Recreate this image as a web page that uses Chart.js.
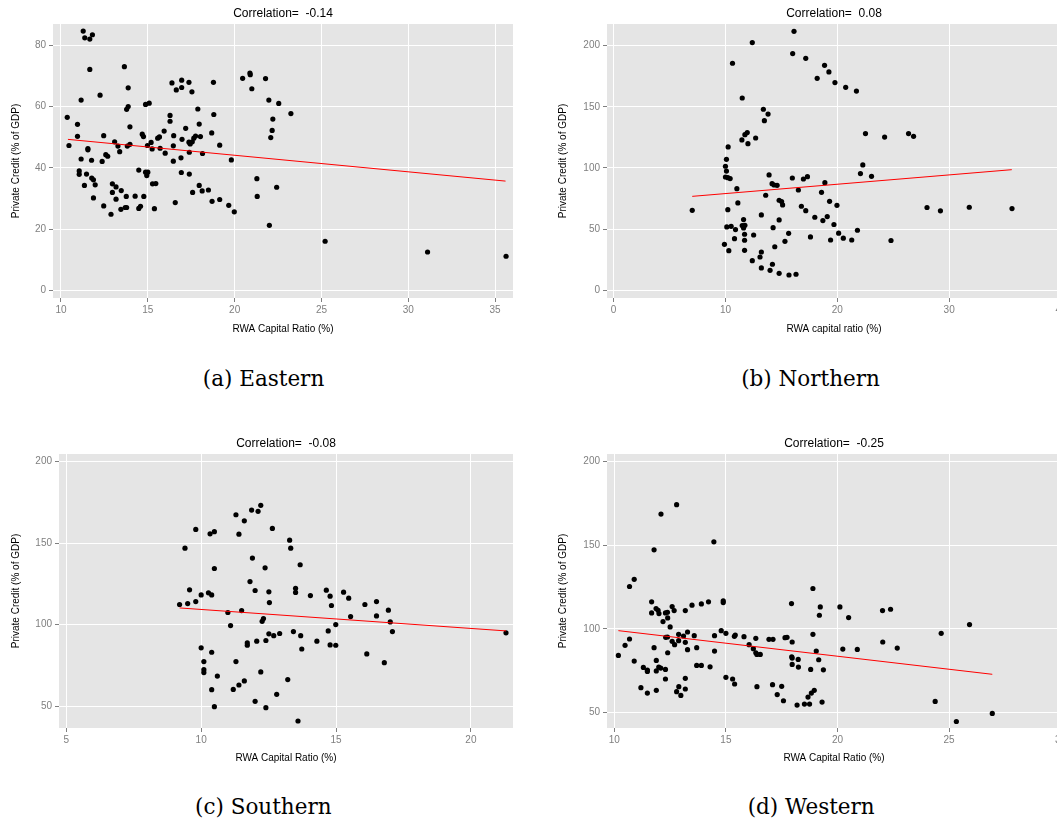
<!DOCTYPE html>
<html>
<head>
<meta charset="utf-8">
<script src="https://cdn.jsdelivr.net/npm/chart.js@4/dist/chart.umd.min.js"></script>
<style>
  html, body { margin: 0; padding: 0; background: #ffffff; }
  body { width: 1057px; height: 820px; overflow: hidden; position: relative; }
  canvas { position: absolute; }
  .cap { position: absolute; width: 300px; text-align: center; font-family: "DejaVu Serif", serif;
         font-size: 21.5px; line-height: 26px; color: #000; white-space: nowrap; }
</style>
</head>
<body>
<canvas id="cA" width="517" height="335" style="left:0px;top:0px;"></canvas>
<canvas id="cB" width="535" height="335" style="left:530px;top:0px;"></canvas>
<canvas id="cC" width="517" height="334" style="left:0px;top:430px;"></canvas>
<canvas id="cD" width="535" height="334" style="left:530px;top:430px;"></canvas>
<div class="cap" style="left:113.5px;top:366px;">(a) Eastern</div>
<div class="cap" style="left:660.5px;top:366px;">(b) Northern</div>
<div class="cap" style="left:113.3px;top:794px;">(c) Southern</div>
<div class="cap" style="left:661.2px;top:794px;">(d) Western</div>
<script>
// ---------------- DATA ----------------
const eastX = [10.36,10.46,11.28,11.37,11.66,11.81,11.66,11.16,10.95,10.95,11.16,11.05,11.05,11.35,11.47,11.55,11.55,11.76,11.77,11.87,11.97,11.87,12.25,12.46,12.37,12.58,12.69,12.46,12.88,12.96,12.96,13.17,13.17,13.09,13.28,13.38,13.47,13.45,13.70,13.78,13.76,13.65,13.87,13.78,13.87,13.97,13.82,13.97,14.27,14.48,14.48,14.58,14.68,14.75,14.77,14.87,15.08,14.87,14.94,14.98,15.00,15.19,15.25,15.27,15.46,15.38,15.57,15.67,15.71,15.94,16.00,16.28,16.28,16.39,16.49,16.47,16.47,16.58,16.64,16.95,16.95,16.97,16.91,16.93,17.18,17.37,17.54,17.37,17.44,17.39,17.56,17.65,17.75,17.39,17.58,17.88,17.96,18.03,17.96,18.15,18.13,18.49,18.78,18.80,18.68,18.70,19.14,19.14,19.66,19.81,19.98,20.46,20.88,20.90,20.99,21.28,21.30,21.78,21.97,22.00,22.08,22.16,22.20,22.42,22.54,23.24,25.21,31.11,35.63];
const eastY = [56.5,47.3,84.6,82.4,82.0,83.4,72.1,62.1,54.2,50.3,42.9,39.0,37.9,34.3,38.0,46.3,45.9,42.5,36.7,36.1,34.5,30.2,63.7,50.5,42.1,44.3,43.8,27.6,24.9,34.8,32.0,33.8,29.8,48.5,47.1,45.3,32.6,26.5,27.1,27.1,30.7,73.0,66.1,59.1,60.0,53.4,47.1,47.7,30.8,39.3,26.8,27.5,51.0,50.2,30.7,60.7,61.1,38.6,37.5,47.3,38.6,48.3,46.2,34.8,34.9,26.7,49.7,50.1,46.4,52.0,44.8,57.1,55.2,67.7,50.5,47.2,42.2,28.7,65.4,68.6,66.2,49.3,43.3,38.5,52.9,67.9,64.8,48.4,47.8,45.1,48.5,49.7,50.4,38.0,32.0,59.2,54.3,50.2,34.3,44.7,32.5,32.8,67.9,57.4,51.4,29.1,47.4,29.7,27.8,42.6,25.7,69.2,70.9,70.4,65.8,36.5,30.7,69.1,62.1,21.3,49.9,52.2,55.9,33.7,61.0,57.7,16.1,12.6,11.2];
const eastFitX = [10.4, 35.6];
const eastFitY = [49.3, 35.7];

const northX = [7.03,9.91,10.24,10.09,10.00,10.09,10.00,10.21,10.42,10.21,10.12,10.51,10.30,10.63,11.02,11.11,10.90,10.81,11.50,11.47,11.74,11.95,12.01,11.62,11.50,11.74,11.62,11.71,11.71,11.71,12.40,12.52,12.40,12.70,13.39,13.81,13.48,13.60,13.21,13.21,13.09,13.21,13.90,14.17,14.35,14.62,14.26,13.99,14.20,14.41,14.80,15.02,15.11,14.80,14.80,15.32,15.65,15.68,16.31,16.13,16.01,15.98,16.52,16.79,17.18,17.33,17.18,16.97,17.60,18.86,19.25,18.20,19.79,20.75,21.71,22.52,24.23,26.37,26.82,22.28,22.07,23.06,18.89,18.59,19.31,19.97,17.99,18.71,19.10,19.70,20.12,20.54,21.80,21.29,19.40,24.80,28.02,29.22,31.80,35.62];
const northY = [65.4,37.6,117.2,107.1,101.4,97.5,92.6,92.1,91.3,65.9,51.8,52.3,32.4,185.6,83.1,71.4,49.6,42.2,157.2,122.9,127.2,128.9,119.9,57.8,52.9,53.1,51.0,45.8,40.9,32.7,202.5,45.2,24.2,124.5,148.0,144.1,138.7,77.7,61.6,31.3,27.2,18.3,94.3,87.2,86.1,85.8,51.2,16.3,21.3,35.6,73.6,72.5,69.8,57.5,13.9,40.0,46.6,12.5,13.1,211.7,193.5,91.8,82.0,68.7,65.1,92.9,189.6,91.0,43.6,183.9,178.5,173.3,169.8,165.9,162.9,128.1,125.3,128.1,125.9,102.5,95.4,93.2,88.0,80.1,72.7,69.5,59.7,57.0,60.3,53.8,46.7,42.6,49.1,41.1,41.1,40.7,67.7,65.0,67.9,66.8];
const northFitX = [7.03, 35.6];
const northFitY = [76.8, 98.6];

const southX = [9.20,9.40,9.50,9.57,9.80,9.80,10.00,10.27,10.39,10.33,10.49,10.49,10.00,10.10,10.10,10.10,10.39,10.60,10.39,10.49,10.99,11.09,11.29,11.40,11.60,11.50,11.29,11.19,11.40,11.60,11.71,11.71,11.81,11.87,11.90,12.00,12.06,12.00,12.11,12.21,12.21,12.26,12.31,12.37,12.40,12.40,12.51,12.53,12.51,12.64,12.69,12.80,12.91,13.21,13.28,13.32,13.42,13.50,13.50,13.59,13.67,13.69,13.73,14.05,14.29,14.64,14.78,14.83,14.71,14.78,14.99,14.99,15.28,15.47,15.54,16.07,16.14,16.50,16.50,16.79,16.94,17.01,17.09,21.30];
const southY = [112.3,146.9,112.9,121.3,158.4,114.1,118.2,119.5,118.2,155.7,157.0,134.4,85.7,77.3,72.3,70.5,83.0,68.4,60.0,49.6,107.4,99.4,167.4,155.5,163.7,108.6,77.3,60.2,62.9,65.4,88.7,87.3,126.4,170.3,140.8,120.9,89.8,52.9,169.5,173.2,70.9,102.0,103.7,134.8,90.2,49.0,120.1,113.5,94.3,159.0,93.2,57.2,94.5,66.2,151.8,146.9,95.7,122.3,119.7,40.8,136.7,93.2,85.0,117.8,89.8,121.1,117.4,111.7,96.1,87.5,100.0,87.3,119.9,116.2,104.9,112.3,82.0,114.1,105.3,76.6,108.8,101.6,95.7,94.9];
const southFitX = [9.2, 21.3];
const southFitY = [110.2, 96.1];

const westX = [10.18,10.48,10.68,10.68,10.89,10.89,11.19,11.30,11.48,11.48,11.48,11.67,11.67,11.78,11.78,11.87,11.96,12.00,11.88,11.88,11.99,12.08,11.88,12.09,12.18,12.29,12.29,12.29,12.38,12.30,12.38,12.39,12.39,12.50,12.59,12.59,12.68,12.70,12.79,12.79,12.88,12.88,12.89,12.98,13.10,13.18,13.18,13.18,13.18,13.28,13.28,13.48,13.58,13.69,13.69,13.90,13.90,14.22,14.29,14.46,14.49,14.49,14.79,14.88,14.88,15.00,15.00,15.30,15.38,15.42,15.39,15.81,16.04,16.23,16.34,16.34,16.39,16.54,16.39,16.93,17.11,17.09,17.30,17.50,17.58,17.65,17.74,17.94,17.97,17.95,17.97,17.97,18.19,18.24,18.25,18.52,18.80,18.68,18.75,18.83,18.90,18.90,19.23,19.19,20.11,20.50,22.02,22.38,25.92,24.65,22.03,22.68,20.24,20.89,19.05,19.16,19.37,18.96,19.31,24.38,25.33,26.94];
const westY = [84.2,90.2,94.0,125.4,129.7,80.8,64.9,77.0,75.4,74.6,61.7,116.2,109.6,147.3,88.8,112.2,111.2,109.2,81.2,74.9,77.2,76.6,63.3,168.7,104.4,75.8,70.1,109.6,110.0,95.0,95.2,106.6,85.8,101.2,113.4,92.6,111.0,90.6,174.3,62.5,96.8,93.0,65.5,60.3,95.8,92.0,111.0,70.5,64.1,98.2,87.6,114.2,96.0,88.8,78.2,115.0,78.2,116.2,77.4,152.1,96.0,86.8,99.0,116.8,115.8,97.4,71.1,70.1,95.6,96.4,67.1,95.4,90.6,88.2,94.4,85.8,84.8,84.8,65.5,93.8,93.8,66.7,60.8,65.7,57.1,94.8,95.0,115.2,92.2,83.4,82.6,78.8,54.5,81.8,77.2,55.1,75.8,59.3,55.1,61.7,124.2,96.8,113.2,108.2,113.2,106.8,111.0,111.8,102.6,97.4,92.2,88.6,88.0,87.8,86.8,81.6,75.6,63.3,56.3,56.7,44.7,49.5];
const westFitX = [10.18, 26.94];
const westFitY = [99.0, 72.9];

// tick labels
const eastXTicks = [10, 15, 20, 25, 30, 35];
const eastYTicks = [0, 20, 40, 60, 80];
const northXTicks = [0, 10, 20, 30, 40];
const northYTicks = [0, 50, 100, 150, 200];
const southXTicks = [5, 10, 15, 20];
const southYTicks = [50, 100, 150, 200];
const westXTicks = [10, 15, 20, 25, 30];
const westYTicks = [50, 100, 150, 200];

const corrEast = '-0.14', corrNorth = '0.08', corrSouth = '-0.08', corrWest = '-0.25';
const yLabel = 'Private Credit (% of GDP)';

// ---------------- DRAWING ----------------
const FONT = '"Liberation Sans", Arial, Helvetica, sans-serif';
const PANEL_BG = '#E5E5E5';

const bgPlugin = {
  id: 'panelBg',
  beforeDraw(chart) {
    const {ctx, chartArea: a} = chart;
    ctx.save();
    ctx.fillStyle = PANEL_BG;
    ctx.fillRect(a.left, a.top, a.right - a.left, a.bottom - a.top);
    ctx.restore();
  }
};

function pts(xs, ys) { return xs.map((x, i) => ({x: x, y: ys[i]})); }

function makeChart(id, o) {
  const ctx = document.getElementById(id);
  return new Chart(ctx, {
    type: 'scatter',
    data: {
      datasets: [
        {
          data: pts(o.fitX, o.fitY),
          showLine: true,
          borderColor: '#FF0000',
          borderWidth: 1,
          pointRadius: 0,
          fill: false
        },
        {
          data: pts(o.xs, o.ys),
          pointRadius: 2.6,
          pointBackgroundColor: '#000000',
          pointBorderWidth: 0,
          borderColor: '#000000'
        }
      ]
    },
    plugins: [bgPlugin],
    options: {
      responsive: false,
      animation: false,
      devicePixelRatio: 1,
      layout: { padding: 0 },
      plugins: {
        legend: { display: false },
        tooltip: { enabled: false },
        title: {
          display: true,
          text: o.title,
          fullSize: false,
          color: '#000000',
          font: { family: FONT, size: 12, weight: 'normal', lineHeight: 1.2 },
          padding: { top: 6.8, bottom: 2.8 }
        }
      },
      scales: {
        x: {
          type: 'linear',
          min: o.xmin, max: o.xmax,
          afterBuildTicks: s => { s.ticks = o.xTicks.map(v => ({value: v})); },
          afterFit: s => { s.height = o.xH; s.paddingLeft = 0; s.paddingRight = 0; },
          grid: { color: '#FFFFFF', lineWidth: 1, tickColor: '#7F7F7F', tickLength: 4, tickWidth: 1 },
          border: { display: false },
          ticks: { color: '#7F7F7F', padding: 2, maxRotation: 0, autoSkip: false,
                   font: { family: FONT, size: 10, lineHeight: 1.2 } },
          title: { display: true, text: o.xLabel, color: '#000000', padding: { top: 0, bottom: 0 },
                   font: { family: FONT, size: 10, lineHeight: 1.2 } }
        },
        y: {
          type: 'linear',
          min: o.ymin, max: o.ymax,
          afterBuildTicks: s => { s.ticks = o.yTicks.map(v => ({value: v})); },
          afterFit: s => { s.width = o.yW; s.paddingTop = 0; s.paddingBottom = 0; },
          grid: { color: '#FFFFFF', lineWidth: 1, tickColor: '#7F7F7F', tickLength: 4, tickWidth: 1 },
          border: { display: false },
          ticks: { color: '#7F7F7F', padding: 3, autoSkip: false,
                   font: { family: FONT, size: 10, lineHeight: 1.2 } },
          title: { display: true, text: yLabel, color: '#000000', padding: { top: o.yTitlePad, bottom: 0 },
                   font: { family: FONT, size: 10, lineHeight: 1.2 } }
        }
      }
    }
  });
}

makeChart('cA', {
  xs: eastX, ys: eastY, fitX: eastFitX, fitY: eastFitY,
  xTicks: eastXTicks, yTicks: eastYTicks,
  xmin: 9.54, xmax: 36.03, ymin: -2.4, ymax: 86.9,
  title: 'Correlation=  ' + corrEast, xLabel: 'RWA Capital Ratio (%)',
  yW: 53, xH: 37, yTitlePad: 10
});
makeChart('cB', {
  xs: northX, ys: northY, fitX: northFitX, fitY: northFitY,
  xTicks: northXTicks, yTicks: northYTicks,
  xmin: -0.59, xmax: 40.0, ymin: -6.3, ymax: 217.7,
  title: 'Correlation=  ' + corrNorth, xLabel: 'RWA capital ratio (%)',
  yW: 77, xH: 37, yTitlePad: 27
});
makeChart('cC', {
  xs: southX, ys: southY, fitX: southFitX, fitY: southFitY,
  xTicks: southXTicks, yTicks: southYTicks,
  xmin: 4.73, xmax: 21.56, ymin: 36.5, ymax: 204.7,
  title: 'Correlation=  ' + corrSouth, xLabel: 'RWA Capital Ratio (%)',
  yW: 59, xH: 36, yTitlePad: 10
});
makeChart('cD', {
  xs: westX, ys: westY, fitX: westFitX, fitY: westFitY,
  xTicks: westXTicks, yTicks: westYTicks,
  xmin: 9.67, xmax: 30.02, ymin: 40.8, ymax: 204.6,
  title: 'Correlation=  ' + corrWest, xLabel: 'RWA Capital Ratio (%)',
  yW: 77, xH: 36, yTitlePad: 27
});
</script>
</body>
</html>
